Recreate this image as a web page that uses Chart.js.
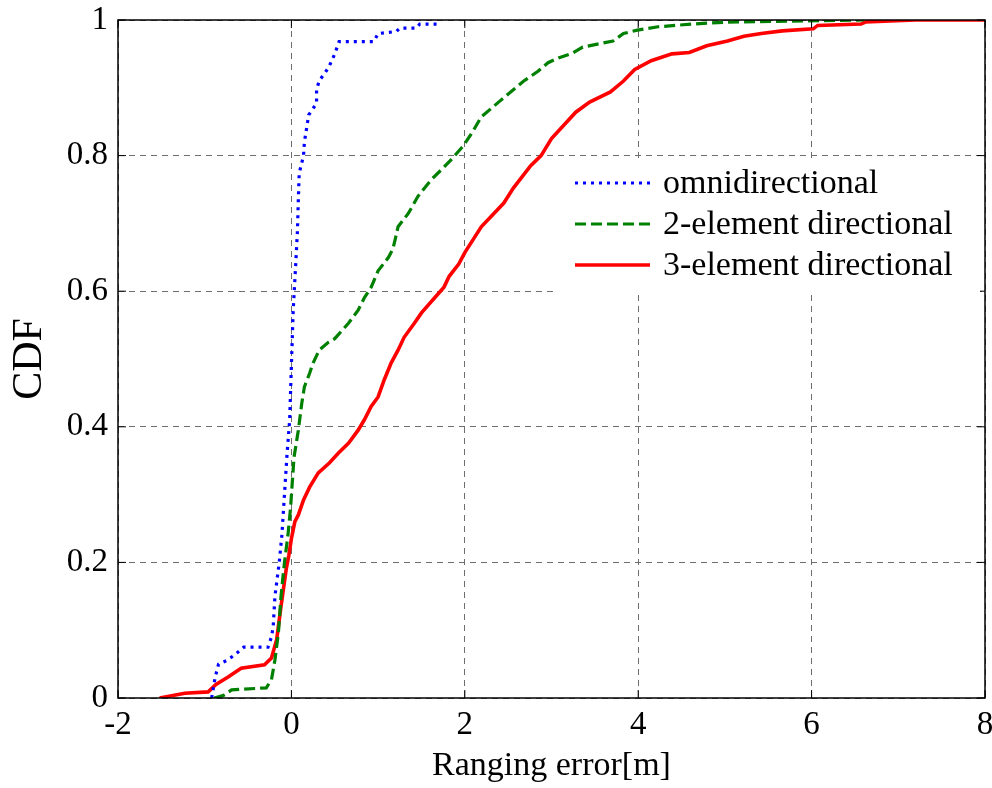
<!DOCTYPE html>
<html>
<head>
<meta charset="utf-8">
<script src="https://cdn.jsdelivr.net/npm/chart.js@4.4.1/dist/chart.umd.min.js"></script>
<style>
  html, body { margin: 0; padding: 0; background: #fff; }
  canvas { display: block; }
</style>
</head>
<body>
<canvas id="cdfChart" width="992" height="788"></canvas>
<script>
const seriesNames = ['omnidirectional', '2-element directional', '3-element directional'];

const omniX = [-0.92, -0.88, -0.84, -0.75, -0.66, -0.55, -0.27, -0.23, -0.21, -0.19, -0.14, -0.11, -0.08, -0.05, -0.02, 0.0, 0.02, 0.05, 0.07, 0.08, 0.09, 0.14, 0.15, 0.2, 0.29, 0.29, 0.32, 0.43, 0.5, 0.55, 0.95, 1.0, 1.21, 1.25, 1.44, 1.48, 1.7];
const omniY = [0, 0.03, 0.05, 0.055, 0.063, 0.075, 0.075, 0.09, 0.105, 0.15, 0.2, 0.24, 0.3, 0.36, 0.41, 0.49, 0.57, 0.64, 0.69, 0.735, 0.774, 0.8, 0.82, 0.86, 0.877, 0.897, 0.91, 0.93, 0.95, 0.968, 0.968, 0.98, 0.983, 0.988, 0.988, 0.994, 0.994];

const dir2X = [-0.89, -0.78, -0.69, -0.29, -0.23, -0.19, -0.15, -0.12, -0.08, -0.04, -0.01, 0.03, 0.08, 0.12, 0.15, 0.21, 0.25, 0.32, 0.43, 0.5, 0.66, 0.77, 0.84, 0.92, 1.0, 1.12, 1.17, 1.2, 1.23, 1.35, 1.46, 1.61, 1.76, 1.85, 1.98, 2.08, 2.19, 2.4, 2.56, 2.68, 2.84, 2.96, 3.08, 3.24, 3.36, 3.55, 3.71, 3.83, 3.99, 4.23, 4.62, 5.03, 5.6, 6.6];
const dir2Y = [0, 0.004, 0.012, 0.015, 0.027, 0.056, 0.096, 0.15, 0.2, 0.24, 0.28, 0.355, 0.395, 0.435, 0.459, 0.479, 0.494, 0.513, 0.525, 0.53, 0.553, 0.572, 0.59, 0.606, 0.63, 0.65, 0.662, 0.678, 0.695, 0.715, 0.74, 0.764, 0.783, 0.795, 0.814, 0.833, 0.857, 0.88, 0.897, 0.91, 0.924, 0.937, 0.944, 0.951, 0.96, 0.965, 0.969, 0.98, 0.985, 0.99, 0.994, 0.997, 0.998, 1.0];

const dir3X = [-1.52, -1.23, -0.96, -0.87, -0.73, -0.58, -0.31, -0.23, -0.17, -0.12, -0.06, -0.03, 0.0, 0.04, 0.08, 0.14, 0.21, 0.31, 0.44, 0.54, 0.66, 0.77, 0.84, 0.92, 1.0, 1.07, 1.15, 1.23, 1.3, 1.42, 1.5, 1.65, 1.76, 1.82, 1.93, 2.0, 2.19, 2.45, 2.56, 2.76, 2.88, 3.0, 3.28, 3.44, 3.68, 3.83, 3.96, 4.15, 4.39, 4.59, 4.79, 5.03, 5.22, 5.42, 5.66, 6.02, 6.07, 6.57, 6.62, 7.2, 8.0];
const dir3Y = [0, 0.007, 0.009, 0.02, 0.031, 0.044, 0.049, 0.059, 0.086, 0.135, 0.19, 0.21, 0.235, 0.26, 0.27, 0.292, 0.311, 0.332, 0.347, 0.361, 0.376, 0.395, 0.41, 0.43, 0.444, 0.469, 0.494, 0.513, 0.532, 0.553, 0.568, 0.59, 0.606, 0.622, 0.64, 0.657, 0.695, 0.73, 0.752, 0.785, 0.8, 0.825, 0.864, 0.879, 0.894, 0.91, 0.927, 0.94, 0.95, 0.952, 0.962, 0.969, 0.976, 0.98, 0.984, 0.987, 0.992, 0.994, 0.997, 1.0, 1.0];

const xTicks = [-2, 0, 2, 4, 6, 8];
const yTicks = [0, 0.2, 0.4, 0.6, 0.8, 1];

const serif = '"Liberation Serif", "Times New Roman", serif';

function toPoints(xs, ys) {
  return xs.map(function (x, i) { return { x: x, y: ys[i] }; });
}

function tickText(value) {
  return String(Math.round(value * 10) / 10);
}

const styles = [
  { color: '#0000ff', dash: [3, 5], width: 3.2 },
  { color: '#008000', dash: [11, 5], width: 3.2 },
  { color: '#ff0000', dash: [], width: 3.6 }
];

// border box, inward ticks and the legend, drawn MATLAB style
const framePlugin = {
  id: 'frame',
  afterDatasetsDraw: function (chart) {
    const ctx = chart.ctx;
    const a = chart.chartArea;
    const xs = chart.scales.x;
    const ys = chart.scales.y;
    ctx.save();
    ctx.strokeStyle = '#000';
    ctx.lineWidth = 1.5;
    ctx.strokeRect(a.left, a.top, a.right - a.left, a.bottom - a.top);
    ctx.lineWidth = 1;
    ctx.beginPath();
    xTicks.forEach(function (t) {
      const px = xs.getPixelForValue(t);
      ctx.moveTo(px, a.bottom); ctx.lineTo(px, a.bottom - 8);
      ctx.moveTo(px, a.top); ctx.lineTo(px, a.top + 8);
    });
    yTicks.forEach(function (t) {
      const py = ys.getPixelForValue(t);
      ctx.moveTo(a.left, py); ctx.lineTo(a.left + 8, py);
      ctx.moveTo(a.right, py); ctx.lineTo(a.right - 8, py);
    });
    ctx.stroke();

    // legend
    const box = { left: 555, top: 159, right: 980, bottom: 294 };
    ctx.fillStyle = '#fff';
    ctx.fillRect(box.left, box.top, box.right - box.left, box.bottom - box.top);
    const rows = [183, 224, 265];
    ctx.font = '34px ' + serif;
    ctx.textBaseline = 'middle';
    ctx.textAlign = 'left';
    seriesNames.forEach(function (name, i) {
      const s = styles[i];
      ctx.strokeStyle = s.color;
      ctx.lineWidth = s.width;
      ctx.setLineDash(s.dash);
      ctx.beginPath();
      ctx.moveTo(575, rows[i]);
      ctx.lineTo(650, rows[i]);
      ctx.stroke();
      ctx.setLineDash([]);
      ctx.fillStyle = '#000';
      ctx.fillText(name, 663, rows[i] + 1);
    });
    ctx.restore();
  }
};

const datasets = [toPoints(omniX, omniY), toPoints(dir2X, dir2Y), toPoints(dir3X, dir3Y)].map(function (pts, i) {
  return {
    label: seriesNames[i],
    data: pts,
    borderColor: styles[i].color,
    borderDash: styles[i].dash,
    borderWidth: styles[i].width,
    pointRadius: 0,
    fill: false,
    tension: 0
  };
});

new Chart(document.getElementById('cdfChart'), {
  type: 'line',
  data: { datasets: datasets },
  plugins: [framePlugin],
  options: {
    responsive: false,
    animation: false,
    layout: { padding: { top: 20, right: 7, left: 0, bottom: 0 } },
    plugins: {
      legend: { display: false },
      tooltip: { enabled: false }
    },
    scales: {
      x: {
        type: 'linear',
        min: -2,
        max: 8,
        afterFit: function (scale) {
          scale.height = 90;
          scale.paddingLeft = 0;
          scale.paddingRight = 0;
        },
        afterBuildTicks: function (scale) { scale.ticks = xTicks.map(function (v) { return { value: v }; }); },
        ticks: { color: '#000', font: { family: serif, size: 33 }, padding: 8, maxRotation: 0, callback: tickText },
        grid: { color: '#6e6e6e', lineWidth: 1, drawTicks: false },
        border: { display: false, dash: [6, 5] },
        title: { display: true, text: 'Ranging error[m]', color: '#000', font: { family: serif, size: 34 }, padding: { top: 0, bottom: 2 } }
      },
      y: {
        type: 'linear',
        min: 0,
        max: 1,
        afterFit: function (scale) {
          scale.width = 118;
          scale.paddingTop = 0;
          scale.paddingBottom = 0;
        },
        afterBuildTicks: function (scale) { scale.ticks = yTicks.map(function (v) { return { value: v }; }); },
        ticks: { color: '#000', font: { family: serif, size: 33 }, padding: 10, callback: tickText },
        grid: { color: '#6e6e6e', lineWidth: 1, drawTicks: false },
        border: { display: false, dash: [6, 5] },
        title: { display: true, text: 'CDF', color: '#000', font: { family: serif, size: 42 }, padding: { top: 5, bottom: 0 } }
      }
    }
  }
});
</script>
</body>
</html>
